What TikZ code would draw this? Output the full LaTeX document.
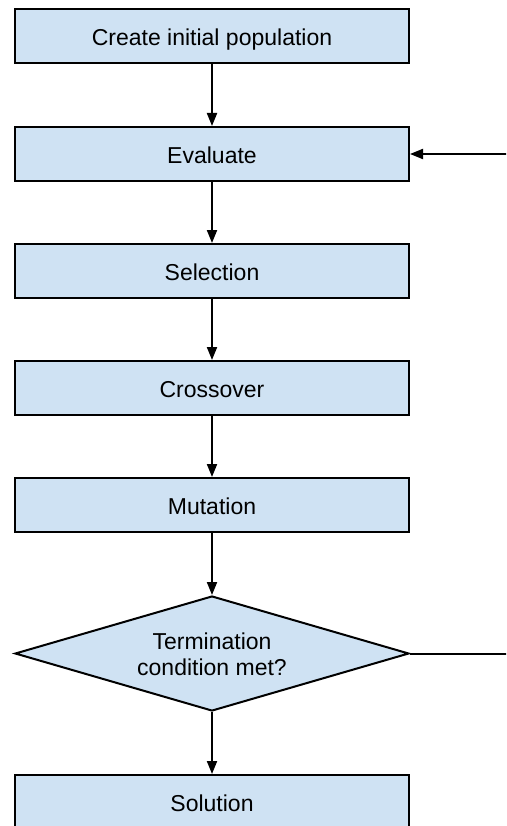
\documentclass[tikz,border=0pt]{standalone}
\usepackage{fontspec}
\setmainfont{Liberation Sans}
\usetikzlibrary{shapes.geometric,arrows.meta}
\definecolor{boxfill}{HTML}{CFE2F3}
\tikzset{
  stepbox/.style={draw=black, fill=boxfill, line width=2pt, rectangle,
    minimum width=394pt, minimum height=54pt, inner sep=0pt,
    font=\fontsize{23}{26.3}\selectfont, text height=19pt, text depth=0pt},
  decision/.style={draw=black, fill=boxfill, line width=2pt, diamond,
    aspect=3.43, minimum width=394pt, minimum height=115pt, inner sep=0pt,
    align=center, font=\fontsize{23}{26.3}\selectfont,
    text height=43.6pt, text depth=0pt},
  flow/.style={line width=2pt, -{Triangle[length=13pt,width=10pt]}},
  plain/.style={line width=2pt}
}
\begin{document}
\begin{tikzpicture}[x=1pt,y=-1pt]
  \useasboundingbox (0,0) rectangle (506,826);
  \clip (0,0) rectangle (506,826);

  % main column of steps
  \node[stepbox] (init) at (212,36.5) {Create initial population};
  \node[stepbox] (eval) at (212,154) {Evaluate};
  \node[stepbox] (sel)  at (212,271) {Selection};
  \node[stepbox] (cross) at (212,388) {Crossover};
  \node[stepbox] (mut)  at (212,505) {Mutation};
  \node[decision] (term) at (212,653.5) {Termination\\condition met?};
  \node[stepbox] (sol)  at (212,802) {Solution};

  % loop ends leaving the right edge
  \coordinate (loopin)  at (510,154);
  \coordinate (loopout) at (510,653.5);

  \draw[flow] (init) -- (eval);
  \draw[flow] (eval) -- (sel);
  \draw[flow] (sel) -- (cross);
  \draw[flow] (cross) -- (mut);
  \draw[flow] (mut) -- (term);
  \draw[flow] (term) -- (sol);
  \draw[flow] (loopin) -- (eval);
  \draw[plain] (term) -- (loopout);
\end{tikzpicture}
\end{document}
